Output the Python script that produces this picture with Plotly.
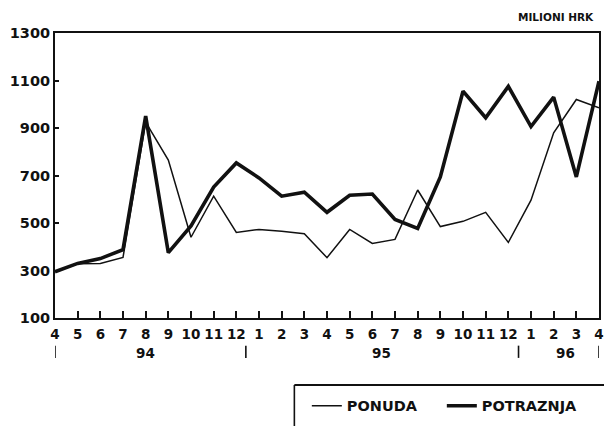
import plotly.graph_objects as go

# Monthly supply and demand, April 1994 - April 1996 (million HRK)
months = ["4", "5", "6", "7", "8", "9", "10", "11", "12",
          "1", "2", "3", "4", "5", "6", "7", "8", "9", "10", "11", "12",
          "1", "2", "3", "4"]
ponuda = [295, 328, 330, 355, 925, 765, 440, 613, 460,
          473, 465, 455, 354, 473, 414, 431, 639, 485, 507, 545, 418,
          596, 880, 1020, 985]
potraznja = [295, 330, 350, 388, 950, 375, 488, 651, 753,
             690, 613, 630, 545, 617, 622, 515, 477, 694, 1055, 943, 1075,
             906, 1030, 694, 1097]
year_labels = ["94", "95", "96"]
year_label_pos = [4, 14.4, 22.5]
year_breaks = [0, 8.42, 20.45, 24]
y_ticks = [100, 300, 500, 700, 900, 1100, 1300]

FONT = "DejaVu Sans"
INK = "#111111"
x = list(range(len(months)))

fig = go.Figure()
fig.add_trace(go.Scatter(x=x, y=ponuda, name="PONUDA", mode="lines",
                         line=dict(color=INK, width=1.5)))
fig.add_trace(go.Scatter(x=x, y=potraznja, name="POTRAZNJA", mode="lines",
                         line=dict(color=INK, width=3.6)))

# year labels and separators under the month axis
for lab, pos in zip(year_labels, year_label_pos):
    fig.add_annotation(x=pos, y=-0.122, xref="x", yref="paper", text=f"<b>{lab}</b>",
                       showarrow=False, font=dict(family=FONT, size=13.5, color=INK),
                       yanchor="middle")
for b in year_breaks:
    fig.add_shape(type="line", xref="x", yref="paper", x0=b, x1=b,
                  y0=-0.097, y1=-0.14, line=dict(color=INK, width=1.6))

# unit label
fig.add_annotation(x=0.995, y=1.055, xref="paper", yref="paper", xanchor="right",
                   yanchor="middle", text="<b>MILIONI HRK</b>", showarrow=False,
                   font=dict(family=FONT, size=10.5, color=INK))

# legend frame (runs off the bottom-right edge)
fig.add_shape(type="line", xref="paper", yref="paper", x0=0.44, x1=1.02,
              y0=-0.235, y1=-0.235, line=dict(color=INK, width=1.8))
fig.add_shape(type="line", xref="paper", yref="paper", x0=0.44, x1=0.44,
              y0=-0.235, y1=-0.40, line=dict(color=INK, width=1.6))

fig.update_layout(
    width=604, height=426,
    margin=dict(l=55, r=5, t=33, b=108),
    paper_bgcolor="white", plot_bgcolor="white",
    showlegend=True,
    legend=dict(orientation="h", xref="container", yref="container",
                x=0.508, y=0.085, xanchor="left", yanchor="top",
                font=dict(family=FONT, size=14.5, color=INK, weight="bold"),
                itemwidth=30, entrywidth=90, entrywidthmode="pixels",
                bgcolor="rgba(0,0,0,0)"),
    xaxis=dict(range=[0, 24], tickmode="array", tickvals=x, ticktext=months,
               showgrid=False, zeroline=False, showline=True, linecolor=INK,
               linewidth=2, mirror=True, ticks="inside", ticklen=7, tickwidth=1.5,
               tickcolor=INK, ticklabeloverflow="allow", ticklabelstandoff=3,
               automargin=False,
               tickfont=dict(family=FONT, size=13.5, color=INK, weight="bold")),
    yaxis=dict(range=[100, 1300], tickmode="array", tickvals=y_ticks,
               showgrid=False, zeroline=False, showline=True, linecolor=INK,
               linewidth=2, mirror=True, ticks="inside", ticklen=4, tickwidth=1.5,
               tickcolor=INK, automargin=False,
               tickfont=dict(family=FONT, size=14.5, color=INK, weight="bold")),
)

fig.write_html("out.html")
